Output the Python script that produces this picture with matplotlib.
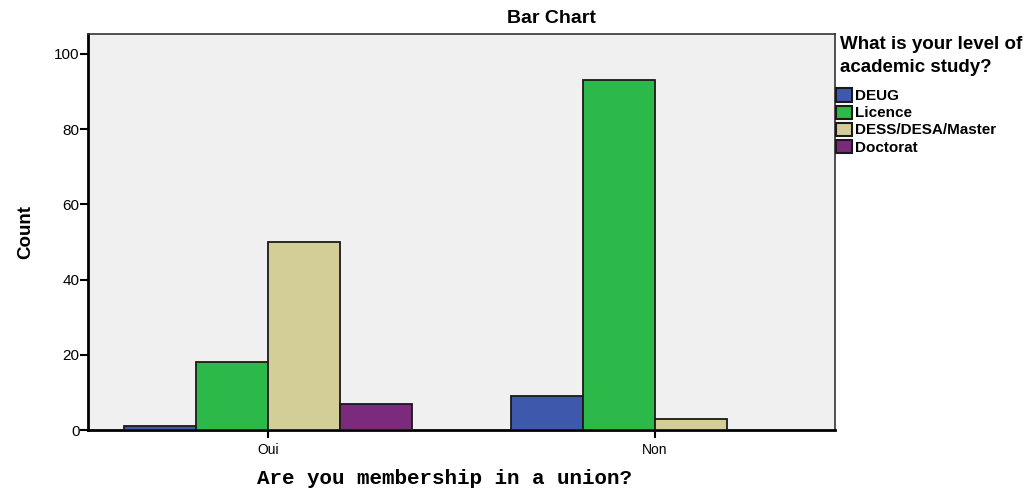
import matplotlib
matplotlib.use("Agg")
import matplotlib.pyplot as plt
import matplotlib.patches as mpatches
import numpy as np

# ── data ────────────────────────────────────────────────────────────────
groups = ["Oui", "Non"]
levels = ["DEUG", "Licence", "DESS/DESA/Master", "Doctorat"]
deug = [1, 9]
licence = [18, 93]
dess = [50, 3]
doctorat = [7, 0]
series = [deug, licence, dess, doctorat]
colors = ["#3e58ac", "#2db84a", "#d3ce97", "#7b2a7c"]

plt.rcParams["font.family"] = ["Liberation Sans", "DejaVu Sans"]

fig = plt.figure(figsize=(10.28, 4.91), dpi=100)
ax = fig.add_axes([0.0856, 0.1242, 0.7267, 0.8066])
ax.set_facecolor("#f0f0f0")

x = np.arange(len(groups))
w = 0.186
offsets = (np.arange(len(series)) - 1.5) * w
for off, vals, c in zip(offsets, series, colors):
    ax.bar(x + off, vals, width=w, color=c, edgecolor="#1a1a1a",
           linewidth=1.3, zorder=3)

ax.set_xlim(-0.465, 1.465)
ax.set_ylim(0, 105.3)
ax.set_yticks([0, 20, 40, 60, 80, 100])
ax.set_xticks(x)
ax.set_xticklabels(groups, fontsize=10)
ax.tick_params(axis="y", labelsize=11, length=6, width=1.5, pad=0)
ax.tick_params(axis="x", length=6, width=1.5, pad=3)

for s in ["left", "bottom"]:
    ax.spines[s].set_linewidth(2)
for s in ["top", "right"]:
    ax.spines[s].set_linewidth(1.2)
    ax.spines[s].set_color("#333333")

ax.set_ylabel("Count", fontsize=13.5, fontweight="bold", labelpad=14)
fig.text(0.432, 0.026, "Are you membership in a union?", ha="center",
         va="center", fontsize=15, fontweight="bold", family="Liberation Mono")
fig.text(0.536, 0.962, "Bar Chart", ha="center", va="center",
         fontsize=14, fontweight="bold")

# legend
fig.text(0.817, 0.927, "What is your level of\nacademic study?", ha="left",
         va="top", fontsize=13.5, fontweight="bold", linespacing=1.45)
handles = [mpatches.Patch(facecolor=c, edgecolor="#1a1a1a", linewidth=1.5,
                          label=l) for c, l in zip(colors, levels)]
fig.legend(handles=handles, loc="upper left", bbox_to_anchor=(0.8135, 0.82),
           frameon=False, prop={"weight": "bold", "size": 11},
           handlelength=1.05, handleheight=0.95, handletextpad=0.2,
           labelspacing=0.15, borderaxespad=0, borderpad=0)

fig.savefig("out.png", dpi=100)
